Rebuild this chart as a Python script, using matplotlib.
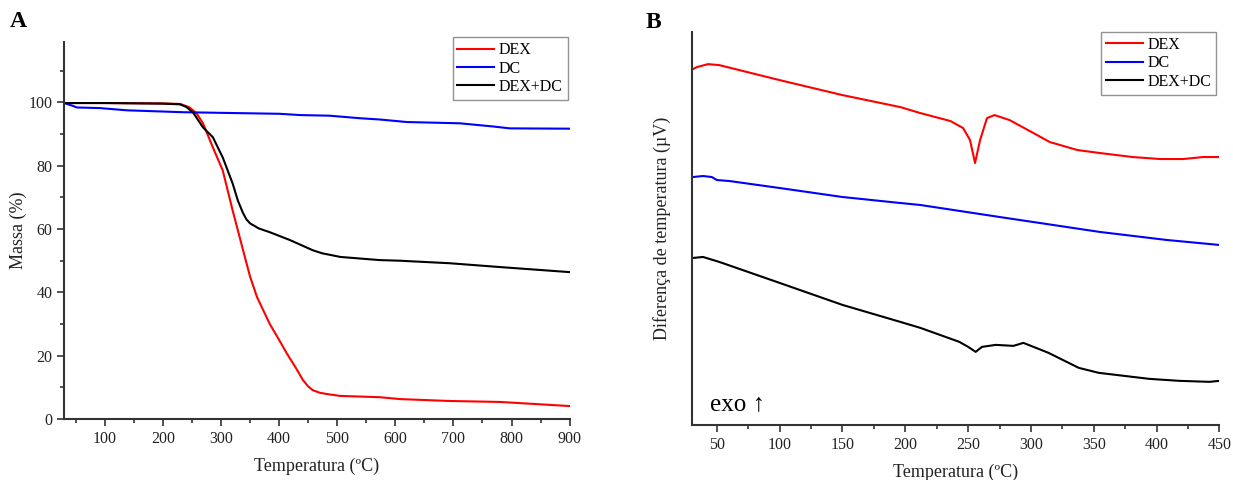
import numpy as np
import matplotlib.pyplot as plt
from matplotlib.ticker import MultipleLocator

plt.rcParams['font.family'] = ['Liberation Serif', 'DejaVu Serif']

# TGA (panel A)
t_dex = [30, 100, 200, 230, 246, 258, 269, 286, 303, 320, 338, 350, 362, 384, 400, 413, 430, 441, 450, 458, 470, 482, 505, 573, 608, 694, 780, 900]
m_dex = [99.8, 99.8, 99.7, 99.5, 98.4, 96.5, 93.4, 85.8, 78.5, 65.9, 53.3, 45.0, 38.5, 30.0, 25.0, 20.8, 15.8, 12.3, 10.3, 9.1, 8.3, 7.9, 7.3, 6.9, 6.3, 5.7, 5.4, 4.1]

t_dc = [30, 45, 52, 92, 138, 235, 401, 436, 487, 539, 573, 620, 711, 768, 797, 900]
m_dc = [99.8, 98.9, 98.4, 98.2, 97.5, 96.9, 96.4, 96.0, 95.8, 95.0, 94.6, 93.8, 93.4, 92.4, 91.8, 91.7]

t_mix = [30, 100, 200, 229, 240, 252, 269, 286, 303, 320, 329, 338, 344, 350, 365, 384, 419, 458, 475, 492, 505, 573, 608, 694, 780, 900]
m_mix = [99.8, 99.8, 99.6, 99.4, 98.6, 96.8, 92.1, 89.0, 82.6, 74.4, 69.0, 65.0, 63.0, 61.8, 60.2, 59.0, 56.5, 53.3, 52.3, 51.7, 51.2, 50.2, 50.0, 49.2, 48.0, 46.4]

# DTA (panel B), arbitrary units
tb_dex = [31, 34, 43, 52, 100, 150, 196, 212, 236, 246, 251.5, 255.5, 259.5, 265, 271, 283, 302, 315, 337, 355, 381, 403, 421, 437, 450]
d_dex = [35.6, 35.8, 36.1, 36.0, 34.5, 33.0, 31.8, 31.2, 30.4, 29.7, 28.5, 26.2, 28.5, 30.7, 31.0, 30.5, 29.2, 28.3, 27.5, 27.2, 26.8, 26.6, 26.6, 26.8, 26.8]

tb_dc = [31, 39, 46, 50, 60, 100, 150, 196, 212, 275, 355, 408, 450]
d_dc = [24.8, 24.9, 24.8, 24.5, 24.4, 23.7, 22.8, 22.2, 22.0, 20.8, 19.3, 18.5, 18.0]

tb_mix = [31, 39, 52, 100, 150, 196, 212, 243, 250, 256, 261, 272, 286, 294, 314, 338, 354, 394, 418, 442, 450]
d_mix = [16.7, 16.8, 16.3, 14.2, 12.0, 10.3, 9.7, 8.3, 7.8, 7.3, 7.8, 8.0, 7.9, 8.2, 7.2, 5.7, 5.2, 4.6, 4.4, 4.3, 4.4]

fig = plt.figure(figsize=(12.33, 4.8), dpi=100)
axA = fig.add_axes([0.052, 0.127, 0.410, 0.785])
axB = fig.add_axes([0.561, 0.115, 0.428, 0.818])

for ax in (axA, axB):
    ax.spines['top'].set_visible(False)
    ax.spines['right'].set_visible(False)
    ax.spines['left'].set_linewidth(1.5)
    ax.spines['bottom'].set_linewidth(1.5)
    ax.spines['left'].set_color('#333333')
    ax.spines['bottom'].set_color('#333333')
    ax.tick_params(which='major', direction='out', length=5, width=1.2, labelsize=11.5, colors='#333333', labelcolor='#222222')
    ax.tick_params(which='minor', direction='out', length=3, width=1.2, colors='#333333')

axA.plot(t_dex, m_dex, color='#ff0000', lw=1.5, label='DEX')
axA.plot(t_dc, m_dc, color='#0000ff', lw=1.5, label='DC')
axA.plot(t_mix, m_mix, color='black', lw=1.5, label='DEX+DC')
axA.set_xlim(30, 900)
axA.set_ylim(0, 119)
axA.xaxis.set_major_locator(MultipleLocator(100))
axA.xaxis.set_minor_locator(MultipleLocator(50))
axA.yaxis.set_major_locator(MultipleLocator(20))
axA.yaxis.set_minor_locator(MultipleLocator(10))
axA.set_yticks([0, 20, 40, 60, 80, 100])
axA.set_xlabel('Temperatura (ºC)', fontsize=13, color='#222222', labelpad=8)
axA.set_ylabel('Massa (%)', fontsize=13, color='#222222', labelpad=1)
legA = axA.legend(loc='upper right', bbox_to_anchor=(0.996, 1.013), borderaxespad=0, fontsize=11.5, frameon=True,
                  fancybox=False, edgecolor='#777777', handlelength=2.3, handletextpad=0.3, borderpad=0.3,
                  labelspacing=0.15)
legA.get_frame().set_linewidth(1.0)

axB.plot(tb_dex, d_dex, color='#ff0000', lw=1.5, label='DEX')
axB.plot(tb_dc, d_dc, color='#0000ff', lw=1.5, label='DC')
axB.plot(tb_mix, d_mix, color='black', lw=1.5, label='DEX+DC')
axB.set_xlim(30, 450)
axB.set_ylim(0, 39.3)
axB.xaxis.set_major_locator(MultipleLocator(50))
axB.xaxis.set_minor_locator(MultipleLocator(25))
axB.set_yticks([])
axB.set_xlabel('Temperatura (ºC)', fontsize=13, color='#222222', labelpad=8)
axB.set_ylabel('Diferença de temperatura (µV)', fontsize=13, color='#222222', labelpad=15)
legB = axB.legend(loc='upper right', bbox_to_anchor=(0.994, 1.0), borderaxespad=0, fontsize=11.5, frameon=True,
                  fancybox=False, edgecolor='#777777', handlelength=2.3, handletextpad=0.3, borderpad=0.3,
                  labelspacing=0.15)
legB.get_frame().set_linewidth(1.0)
axB.text(0.035, 0.025, 'exo ↑', transform=axB.transAxes, fontsize=18, ha='left', va='bottom', color='black')

fig.text(0.008, 0.955, 'A', fontsize=17, fontweight='bold', ha='left', va='center')
fig.text(0.524, 0.953, 'B', fontsize=17, fontweight='bold', ha='left', va='center')

fig.savefig('out.png', dpi=100)
